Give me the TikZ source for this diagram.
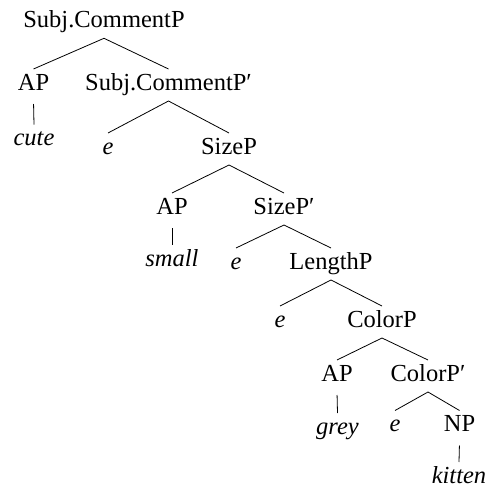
\documentclass[tikz,border=0pt]{standalone}
\usepackage{fontspec}
\setmainfont{Liberation Serif}
\begin{document}
\begin{tikzpicture}[x=1pt,y=-1pt,
  lbl/.style={anchor=base,inner sep=0pt,outer sep=0pt,text height=21pt,text depth=11pt,font=\fontsize{24.5}{29}\selectfont},
  leaf/.style={lbl,font=\fontsize{24.5}{29}\selectfont\itshape},
  edge/.style={line width=0.8pt},
  unary/.style={edge,shorten <=3pt}]
\useasboundingbox (0,0) rectangle (487,487);
\node[lbl] (root) at (104,27.3) {Subj.CommentP};
\node[lbl] (ap1) at (33.5,90) {AP};
\node[lbl] (scp) at (168.5,90) {Subj.CommentP′};
\node[leaf] (cute) at (34,145.7) {cute};
\node[leaf] (e1) at (108,154) {e};
\node[lbl] (sizep) at (229,154) {SizeP};
\node[lbl] (ap2) at (172,214) {AP};
\node[lbl] (sizepp) at (284,214) {SizeP′};
\node[leaf] (small) at (172,266) {small};
\node[leaf] (e2) at (236,269) {e};
\node[lbl] (lengthp) at (331,269) {LengthP};
\node[leaf] (e3) at (280,327) {e};
\node[lbl] (colorp) at (382,327) {ColorP};
\node[lbl] (ap3) at (337,381) {AP};
\node[lbl] (colorpp) at (428,381) {ColorP′};
\node[leaf] (grey) at (337.5,434) {grey};
\node[leaf] (e4) at (395,431.5) {e};
\node[lbl] (np) at (459.5,431.5) {NP};
\node[leaf,text depth=0pt] (kitten) at (459,483) {kitten};
\draw[edge] (ap1.north) -- (root.south) -- (scp.north);
\draw[unary] (ap1.south) -- (cute.north);
\draw[edge] (e1.north) -- (scp.south) -- (sizep.north);
\draw[edge] (ap2.north) -- (sizep.south) -- (sizepp.north);
\draw[unary] (ap2.south) -- (small.north);
\draw[edge] (e2.north) -- (sizepp.south) -- (lengthp.north);
\draw[edge] (e3.north) -- (lengthp.south) -- (colorp.north);
\draw[edge] (ap3.north) -- (colorp.south) -- (colorpp.north);
\draw[unary] (ap3.south) -- (grey.north);
\draw[edge] (e4.north) -- (colorpp.south) -- (np.north);
\draw[unary] (np.south) -- (kitten.north);
\end{tikzpicture}
\end{document}
